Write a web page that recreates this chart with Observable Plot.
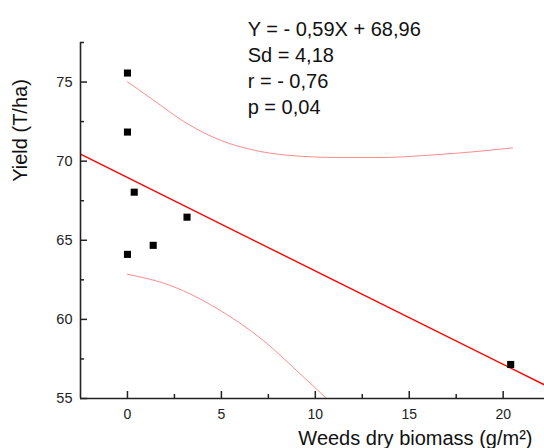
<!DOCTYPE html>
<html><head><meta charset="utf-8">
<script src="https://cdn.jsdelivr.net/npm/d3@7"></script>
<script src="https://cdn.jsdelivr.net/npm/@observablehq/plot@0.6"></script>
<style>body{margin:0;background:#fff} #chart svg{display:block}</style>
</head><body><div id="chart"></div>
<script>
const xDomain = [-2.5, 22.2];
const yDomain = [55, 77.5];
const biomass = [0, 0, 0.36, 3.17, 1.37, 0, 20.4];
const yieldValues = [75.57, 71.84, 68.04, 66.46, 64.68, 64.11, 57.15];
const fitX = [-2.5, 22.2];
const fitY = [70.44, 55.86];
const upperX = [0, 1.38, 3.16, 4.93, 6.72, 8.48, 11.3, 13.44, 16.1, 18.76, 20.5];
const upperY = [75.02, 73.86, 72.39, 71.33, 70.70, 70.38, 70.23, 70.23, 70.38, 70.63, 70.84];
const lowerX = [0, 2.27, 4.93, 7.23, 9.19, 10.6];
const lowerY = [62.85, 62.15, 60.57, 58.67, 56.56, 55];
const xMajorTicks = [0, 5, 10, 15, 20];
const xMinorTicks = [2.5, 7.5, 12.5, 17.5];
const yMajorTicks = [55, 60, 65, 70, 75];
const yMinorTicks = [57.5, 62.5, 67.5, 72.5, 77.5];
const statsLines = ["Y = - 0,59X + 68,96", "Sd = 4,18", "r = - 0,76", "p = 0,04"];
const statsPos = {x: 6.4, y: 79.1};
const xTitle = "Weeds dry biomass (g/m²)";
const yTitle = "Yield (T/ha)";

const points = biomass.map((x, i) => ({x, y: yieldValues[i]}));
const fit = fitX.map((x, i) => ({x, y: fitY[i]}));
const upper = upperX.map((x, i) => ({x, y: upperY[i]}));
const lower = lowerX.map((x, i) => ({x, y: lowerY[i]}));
const axisColor = "#222";

const chart = Plot.plot({
  width: 544,
  height: 448,
  marginLeft: 80,
  marginRight: 0,
  marginTop: 42,
  marginBottom: 50,
  style: {fontFamily: "'Liberation Sans', Arial, sans-serif", background: "#fff", overflow: "visible"},
  x: {domain: xDomain, label: null},
  y: {domain: yDomain, label: null},
  marks: [
    Plot.line(upper, {x: "x", y: "y", stroke: "#ff5a5a", strokeWidth: 0.7, curve: "monotone-x", clip: true}),
    Plot.line(lower, {x: "x", y: "y", stroke: "#ff5a5a", strokeWidth: 0.7, curve: "monotone-x", clip: true}),
    Plot.line(fit, {x: "x", y: "y", stroke: "#f00", strokeWidth: 1.4, clip: true}),
    Plot.dot(points, {x: "x", y: "y", symbol: "square", r: 4, fill: "#000", stroke: null}),
    // tick labels
    Plot.axisX({ticks: xMajorTicks, tickSize: 0, tickPadding: 11, fontSize: 14, fill: "#222", label: null}),
    Plot.axisY({ticks: yMajorTicks, tickSize: 0, tickPadding: 8, fontSize: 14.5, fill: "#222", label: null}),
    // inward tick marks
    Plot.ruleX(xMajorTicks, {x: d => d, y1: yDomain[0], y2: yDomain[0], insetTop: -7, stroke: axisColor, strokeWidth: 1.5}),
    Plot.ruleX(xMinorTicks, {x: d => d, y1: yDomain[0], y2: yDomain[0], insetTop: -4, stroke: axisColor, strokeWidth: 1.5}),
    Plot.ruleY(yMajorTicks, {y: d => d, x1: xDomain[0], x2: xDomain[0], insetRight: -7, stroke: axisColor, strokeWidth: 1.5}),
    Plot.ruleY(yMinorTicks, {y: d => d, x1: xDomain[0], x2: xDomain[0], insetRight: -4, stroke: axisColor, strokeWidth: 1.5}),
    // axis lines
    Plot.ruleY([yDomain[0]], {stroke: axisColor, strokeWidth: 1.6}),
    Plot.ruleX([xDomain[0]], {stroke: axisColor, strokeWidth: 1.6}),
    Plot.text([statsLines.join("\n")], {x: statsPos.x, y: statsPos.y, text: d => d, textAnchor: "start", lineAnchor: "top", lineHeight: 1.3, fontSize: 20, fill: "#111"}),
    Plot.text([yTitle], {frameAnchor: "top-left", text: d => d, rotate: -90, dx: -60, dy: 88, textAnchor: "middle", lineAnchor: "middle", fontSize: 20, fill: "#111"}),
    Plot.text([xTitle], {frameAnchor: "bottom-right", text: d => d, dx: -12, dy: 40, textAnchor: "end", lineAnchor: "middle", fontSize: 20, fill: "#111"})
  ]
});
document.getElementById("chart").appendChild(chart);
</script>
</body></html>
